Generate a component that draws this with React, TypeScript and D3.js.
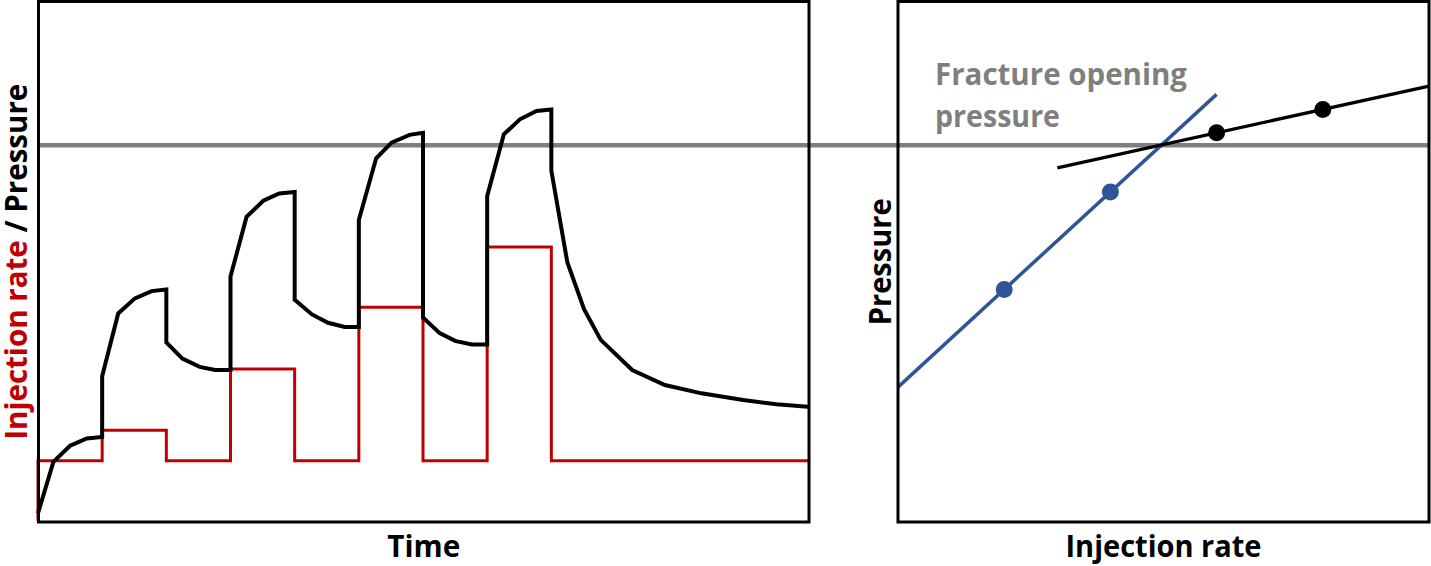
import * as d3 from "d3";
import React, { useRef, useEffect } from "react";

// left panel: injection rate (step) and pressure over time
const rateTimes = [0, 0, 1, 2, 3, 4, 5, 6, 7, 8, 12];
const rateValues = [0, 11.6, 17.5, 11.6, 29.3, 11.6, 41.2, 11.6, 52.8, 11.6, 11.6];

const pressureTimes = [
    0, 0.24, 0.5, 0.76, 1, 1, 1.25, 1.51, 1.77, 2,
    2, 2.25, 2.52, 2.76, 3, 3, 3.25, 3.51, 3.76, 4,
    4, 4.27, 4.52, 4.78, 5, 5, 5.27, 5.51, 5.79, 6,
    6, 6.26, 6.5, 6.76, 7, 7, 7.26, 7.51, 7.77, 8,
    8, 8.25, 8.51, 8.77, 9.26, 9.77, 10.34, 10.99, 11.51, 12
];
const pressureValues = [
    1.5, 11.4, 14.5, 15.9, 16.2, 27.9, 40.0, 42.9, 44.3, 44.6,
    34.4, 31.3, 29.7, 29.1, 29.1, 47.1, 58.6, 61.7, 63.1, 63.4,
    42.6, 39.8, 38.2, 37.4, 37.4, 58.0, 69.9, 72.9, 74.4, 74.8,
    39.2, 36.2, 34.7, 34.0, 34.0, 62.6, 74.5, 77.4, 79.0, 79.3,
    67.5, 49.8, 40.8, 34.9, 29.1, 26.2, 24.6, 23.3, 22.5, 22.0
];

// right panel: pressure at the end of each step vs injection rate
const stepRates = [2, 4, 6, 8];
const stepPressures = [44.6, 63.4, 74.8, 79.3];
const stepGroup = ["before", "before", "after", "after"];
// x extent of the two fitted lines
const fitExtents = { before: [0, 6], after: [3, 10] };

const fracturePressure = 72.4;

const RED = "#C00000";
const GRAY = "#7F7F7F";
const BLUE = "#2F5597";
const FONT = "'Open Sans', sans-serif";

function App() {

    const ref = useRef<SVGSVGElement>(null);

    useEffect(() => {
        document.body.style.margin = "0";

        const svg = d3.select(ref.current);
        svg.selectAll("*").remove();

        const left = { x0: 38.5, x1: 809 };
        const right = { x0: 898, x1: 1429 };
        const top = 1.5, bottom = 522;

        const xTime = d3.scaleLinear().domain([0, 12]).range([38, 808]);
        const xRate = d3.scaleLinear().domain([0, 10]).range([898, 1429]);
        const y = d3.scaleLinear().domain([0, 100]).range([521, 2]);

        // fracture opening pressure line across both panels
        svg.append("line")
            .attr("x1", left.x0).attr("x2", right.x1)
            .attr("y1", y(fracturePressure)).attr("y2", y(fracturePressure))
            .attr("stroke", GRAY)
            .attr("stroke-width", 4.5);

        // injection rate steps
        const rateData = rateTimes.map((t, i) => [t, rateValues[i]] as [number, number]);
        svg.append("path")
            .attr("d", d3.line().x(d => xTime(d[0])).y(d => y(d[1])).curve(d3.curveStepAfter)(rateData))
            .attr("fill", "none")
            .attr("stroke", RED)
            .attr("stroke-width", 3);

        // pressure
        const pData = pressureTimes.map((t, i) => [t, pressureValues[i]] as [number, number]);
        svg.append("path")
            .attr("d", d3.line().x(d => xTime(d[0])).y(d => y(d[1]))(pData))
            .attr("fill", "none")
            .attr("stroke", "black")
            .attr("stroke-width", 4);

        // fitted lines through step pressures
        (["before", "after"] as const).forEach(g => {
            const idx = stepGroup.map((s, i) => s === g ? i : -1).filter(i => i >= 0);
            const [a, b] = idx;
            const slope = (stepPressures[b] - stepPressures[a]) / (stepRates[b] - stepRates[a]);
            const f = (x: number) => stepPressures[a] + slope * (x - stepRates[a]);
            const [e0, e1] = fitExtents[g];
            svg.append("line")
                .attr("x1", xRate(e0)).attr("y1", y(f(e0)))
                .attr("x2", xRate(e1)).attr("y2", y(f(e1)))
                .attr("stroke", g === "before" ? BLUE : "black")
                .attr("stroke-width", g === "before" ? 3.5 : 3.3);
        });

        svg.append("g")
            .selectAll("circle")
            .data(stepRates)
            .enter()
            .append("circle")
            .attr("cx", d => xRate(d))
            .attr("cy", (d, i) => y(stepPressures[i]))
            .attr("r", 8.5)
            .attr("fill", (d, i) => stepGroup[i] === "before" ? BLUE : "black");

        // panel frames
        [left, right].forEach(p => {
            svg.append("rect")
                .attr("x", p.x0).attr("y", top)
                .attr("width", p.x1 - p.x0).attr("height", bottom - top)
                .attr("fill", "none")
                .attr("stroke", "black")
                .attr("stroke-width", 3);
        });

        const label = (txt: string, x: number, yy: number, len: number, rot = 0, color = "black") =>
            svg.append("text")
                .attr("transform", `translate(${x},${yy}) rotate(${rot})`)
                .attr("text-anchor", "middle")
                .attr("font-family", FONT)
                .attr("font-weight", 700)
                .attr("font-size", 31)
                .attr("fill", color)
                .attr("textLength", len)
                .attr("lengthAdjust", "spacingAndGlyphs")
                .text(txt);

        label("Time", (left.x0 + left.x1) / 2, 557, 73);
        label("Injection rate", (right.x0 + right.x1) / 2, 557, 196);
        label("Pressure", 891, (top + bottom) / 2, 127, -90);

        const yl = svg.append("text")
            .attr("transform", `translate(27,${(top + bottom) / 2}) rotate(-90)`)
            .attr("text-anchor", "middle")
            .attr("font-family", FONT)
            .attr("font-weight", 700)
            .attr("font-size", 31)
            .attr("textLength", 356)
            .attr("lengthAdjust", "spacingAndGlyphs");
        yl.append("tspan").attr("fill", RED).text("Injection rate");
        yl.append("tspan").attr("fill", "black").text(" / Pressure");

        const fo = svg.append("text")
            .attr("font-family", FONT)
            .attr("font-weight", 700)
            .attr("font-size", 31)
            .attr("fill", GRAY);
        fo.append("tspan").attr("x", 935).attr("y", 85)
            .attr("textLength", 252).attr("lengthAdjust", "spacingAndGlyphs")
            .text("Fracture opening");
        fo.append("tspan").attr("x", 935).attr("y", 127)
            .attr("textLength", 125).attr("lengthAdjust", "spacingAndGlyphs")
            .text("pressure");
    }, []);

    return (
        <div style={{ position: "absolute", left: 0, top: 0 }}>
            <svg ref={ref} width={1431} height={566} style={{ display: "block", background: "white" }} />
        </div>
    );
}

export default App;
